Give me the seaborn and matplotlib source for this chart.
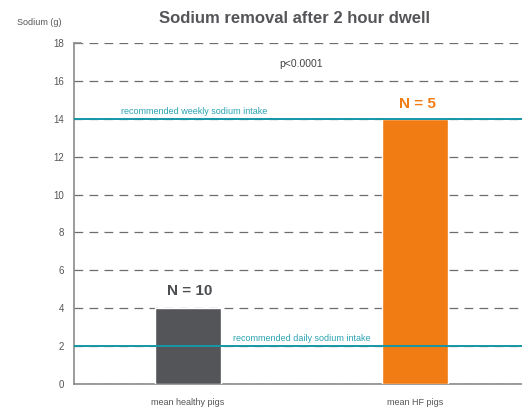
import matplotlib
matplotlib.use("Agg")
import matplotlib.pyplot as plt
import seaborn as sns
import pandas as pd
from matplotlib.ticker import FixedLocator

groups = ["mean healthy pigs", "mean HF pigs"]
sodium = [4.0, 14.0]
n_labels = ["N = 10", "N = 5"]
bar_colors = ["#545559", "#f07c13"]
ref_values = [2, 14]
ref_labels = ["recommended daily sodium intake", "recommended weekly sodium intake"]

df = pd.DataFrame({"group": groups, "sodium": sodium})

sns.set_style("white")
plt.rcParams["font.family"] = ["Liberation Sans", "DejaVu Sans"]

fig = plt.figure(figsize=(5.22, 4.09), dpi=100)
ax = fig.add_axes([0.1418, 0.0611, 0.8582, 0.8338])

sns.barplot(data=df, x="group", y="sodium", hue="group", palette=bar_colors,
            width=0.29, saturation=1, legend=False, ax=ax, zorder=3)

ax.set_ylim(0, 18)
ax.set_xlim(-0.5, 1.47)
ax.set_yticks(range(0, 19, 2))
ax.yaxis.grid(True, linestyle=(0, (7, 5)), color="#6d6d6d", linewidth=0.9)
ax.set_axisbelow(True)

# reference lines
ax.axhline(ref_values[0], color="#1597a8", linewidth=1.4, zorder=4)
ax.axhline(ref_values[1], color="#1597a8", linewidth=1.4, zorder=4)
ax.text(0.5, ref_values[0] + 0.15, ref_labels[0], color="#2aa3b3", fontsize=6.5, ha="center", va="bottom", zorder=5)
ax.text(0.03, ref_values[1] + 0.15, ref_labels[1], color="#2aa3b3", fontsize=6.5, ha="center", va="bottom", zorder=5)

# N labels
ax.text(0.01, sodium[0] + 0.55, n_labels[0], color="#4d4e52", fontsize=11, fontweight="bold", ha="center", va="bottom")
ax.text(1.01, sodium[1] + 0.4, n_labels[1], color="#f07c13", fontsize=11, fontweight="bold", ha="center", va="bottom")

ax.text(0.5, 16.9, "p<0.0001", color="#444444", fontsize=7.5, ha="center", va="center")

for s in ["top", "right"]:
    ax.spines[s].set_visible(False)
for s in ["left", "bottom"]:
    ax.spines[s].set_color("#8a8a8a")
    ax.spines[s].set_linewidth(1.2)

ax.tick_params(axis="y", length=0, labelsize=7, labelcolor="#555555", pad=7)
ax.tick_params(axis="x", which="major", length=0, labelsize=6.5, labelcolor="#555555", pad=10)
ax.xaxis.set_minor_locator(FixedLocator([0.5]))
ax.tick_params(axis="x", which="minor", direction="in", length=5, color="#8a8a8a", width=1)
ax.set_xlabel("")
ax.set_ylabel("")

# small tick at top of y spine
ax.plot([-0.5, -0.47], [18, 18], color="#8a8a8a", linewidth=1.2, clip_on=False, zorder=5)

fig.text(0.565, 0.955, "Sodium removal after 2 hour dwell", fontsize=12, fontweight="bold",
         color="#555559", ha="center", va="center")
fig.text(0.033, 0.945, "Sodium (g)", fontsize=6.5, color="#555555", ha="left", va="center")

fig.savefig("out.png", dpi=100)
